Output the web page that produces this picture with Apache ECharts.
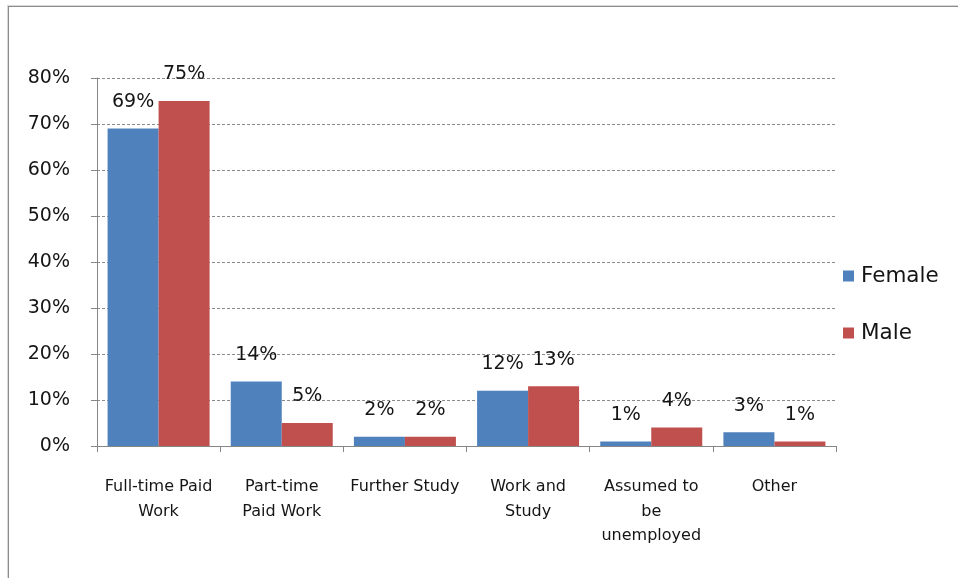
<!DOCTYPE html>
<html>
<head>
<meta charset="utf-8">
<script src="https://cdn.jsdelivr.net/npm/echarts@6/dist/echarts.min.js"></script>
<style>
  html, body { margin: 0; padding: 0; background: #fff; }
  #frame { position: absolute; left: 0; top: 0; width: 958px; height: 578px; }
  #edge { position: absolute; left: 8px; top: 6px; width: 960px; height: 600px;
          border-left: 1px solid #8c8c8c; border-top: 1px solid #8c8c8c;
          box-shadow: -1px -1px 0 #d8d8d8; pointer-events: none; }
  #chart { position: absolute; left: 0; top: 0; width: 958px; height: 578px; }
</style>
</head>
<body>
<div id="frame">
  <div id="chart"></div>
  <div id="edge"></div>
</div>
<script>
// Destinations of graduates, by gender (percent)
const categories = [
  'Full-time Paid\nWork',
  'Part-time\nPaid Work',
  'Further Study',
  'Work and\nStudy',
  'Assumed to\nbe\nunemployed',
  'Other'
];
const female = [69, 14, 2, 12, 1, 3];
const male = [75, 5, 2, 13, 4, 1];
const yTicks = [0, 10, 20, 30, 40, 50, 60, 70, 80];

const FONT = '"DejaVu Sans", "Noto Sans", sans-serif';
const TEXT = '#151515';
const AXIS_GREY = '#868686';

const barLabel = {
  show: true,
  position: 'top',
  distance: 17,
  fontFamily: FONT,
  fontSize: 19,
  color: TEXT,
  formatter: p => p.value + '%'
};

const chart = echarts.init(document.getElementById('chart'), null, { renderer: 'canvas' });
chart.setOption({
  animation: false,
  backgroundColor: '#fff',
  grid: { left: 97, right: 122, top: 78, bottom: 132, containLabel: false },
  legend: {
    orient: 'vertical',
    left: 838,
    top: 260,
    itemWidth: 11,
    itemHeight: 11,
    itemGap: 35,
    icon: 'rect',
    textStyle: { fontFamily: FONT, fontSize: 21.5, color: TEXT, padding: [0, 0, 0, 2] },
    data: ['Female', 'Male']
  },
  xAxis: {
    type: 'category',
    data: categories,
    axisLine: { lineStyle: { color: AXIS_GREY, width: 1 } },
    axisTick: { show: true, length: 6, alignWithLabel: false, lineStyle: { color: AXIS_GREY } },
    axisLabel: {
      interval: 0,
      margin: 29,
      fontFamily: FONT,
      fontSize: 16,
      lineHeight: 24.5,
      color: TEXT,
      align: 'center'
    },
    splitLine: { show: false }
  },
  yAxis: {
    type: 'value',
    min: yTicks[0],
    max: yTicks[yTicks.length - 1],
    interval: yTicks[1] - yTicks[0],
    axisLine: { show: true, lineStyle: { color: AXIS_GREY, width: 1 } },
    axisTick: { show: true, length: 6, inside: false, lineStyle: { color: AXIS_GREY } },
    axisLabel: {
      margin: 27,
      fontFamily: FONT,
      fontSize: 19,
      color: TEXT,
      formatter: v => v + '%'
    },
    splitLine: { show: true, lineStyle: { color: '#8a8a8a', type: [3, 2], width: 1 } }
  },
  series: [
    {
      name: 'Female',
      type: 'bar',
      data: female,
      barWidth: 51,
      barGap: '0%',
      itemStyle: { color: '#4F81BD' },
      label: barLabel
    },
    {
      name: 'Male',
      type: 'bar',
      data: male,
      barWidth: 51,
      barGap: '0%',
      itemStyle: { color: '#C0504D' },
      label: barLabel
    }
  ]
});
</script>
</body>
</html>
